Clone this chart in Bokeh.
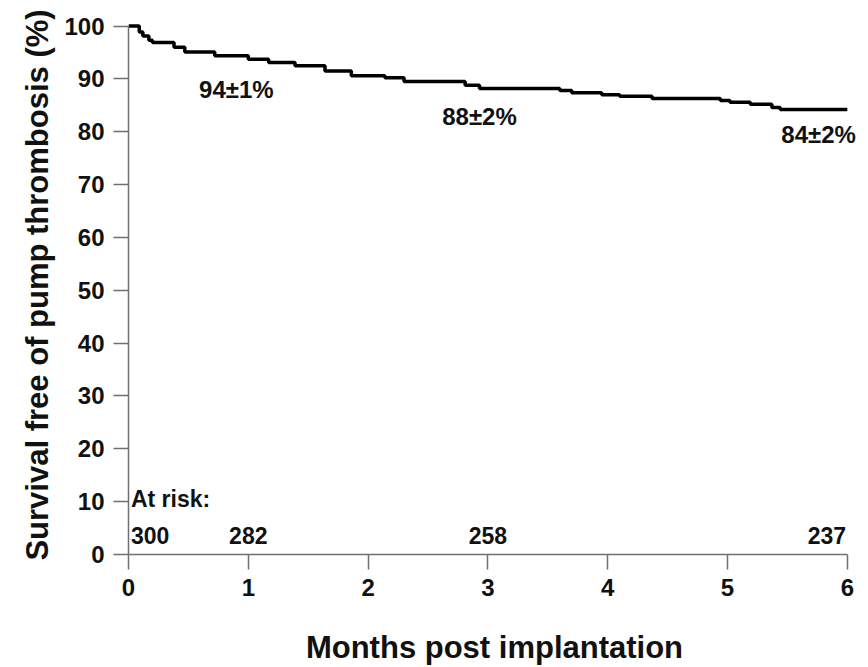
from bokeh.plotting import figure
from bokeh.models import ColumnDataSource, FixedTicker
from bokeh.core.properties import value
from bokeh.embed import file_html
from bokeh.resources import INLINE

# Kaplan-Meier curve (months, survival %)
km_months = [0.0, 0.09, 0.12, 0.17, 0.20, 0.38, 0.47, 0.72, 1.00, 1.17, 1.39,
             1.64, 1.86, 2.14, 2.30, 2.81, 2.93, 3.60, 3.70, 3.95, 4.10, 4.37,
             4.94, 5.02, 5.19, 5.37, 5.44, 6.00]
km_survival = [100.0, 98.9, 98.1, 97.3, 96.9, 96.0, 95.1, 94.4, 93.7, 93.1, 92.5,
               91.5, 90.6, 90.2, 89.5, 88.8, 88.2, 87.8, 87.4, 87.0, 86.7, 86.3,
               85.9, 85.6, 85.2, 84.6, 84.2, 84.2]

# Survival estimate annotations
annot_months = [0.90, 2.93, 5.76]
annot_values = [88.0, 82.8, 79.4]
annot_text = ["94±1%", "88±2%", "84±2%"]

# Numbers at risk
risk_months = [0.02, 1.0, 3.0, 5.99]
risk_counts = ["300", "282", "258", "237"]
risk_align = ["left", "center", "center", "right"]
risk_level = [3.6, 3.6, 3.6, 3.6]
risk_title = "At risk:"
risk_title_month = [0.02]
risk_title_level = [10.5]

x_ticks = [0, 1, 2, 3, 4, 5, 6]
y_ticks = [0, 10, 20, 30, 40, 50, 60, 70, 80, 90, 100]

FONT = "Liberation Sans"
AXIS_GREY = "#707070"

p = figure(width=860, height=667, x_range=(0, 6.11), y_range=(0, 102),
           output_backend="svg", toolbar_location=None,
           min_border_left=128, min_border_right=0,
           min_border_top=15, min_border_bottom=111)
p.outline_line_color = None
p.xgrid.visible = False
p.ygrid.visible = False
p.background_fill_color = "white"
p.border_fill_color = "white"

p.step(km_months, km_survival, mode="after", line_width=3.5, line_color="black")

src_a = ColumnDataSource(dict(x=annot_months, y=annot_values, t=annot_text))
p.text(x="x", y="y", text="t", source=src_a, text_align="center",
       text_baseline="middle", text_font=value(FONT), text_font_style="bold",
       text_font_size="24px", text_color="#111111")

src_r = ColumnDataSource(dict(x=risk_months, y=risk_level, t=risk_counts, a=risk_align))
p.text(x="x", y="y", text="t", source=src_r, text_align="a",
       text_baseline="middle", text_font=value(FONT), text_font_style="bold",
       text_font_size="23px", text_color="#111111")

p.text(x=risk_title_month, y=risk_title_level, text=[risk_title], text_align="left",
       text_baseline="middle", text_font=value(FONT), text_font_style="bold",
       text_font_size="23px", text_color="#111111")

for ax in (p.xaxis[0], p.yaxis[0]):
    ax.axis_line_color = AXIS_GREY
    ax.axis_line_width = 1.5
    ax.major_tick_line_color = AXIS_GREY
    ax.major_tick_line_width = 1.5
    ax.major_tick_in = 0
    ax.major_tick_out = 15
    ax.minor_tick_line_color = None
    ax.major_label_text_font = FONT
    ax.major_label_text_font_style = "bold"
    ax.major_label_text_font_size = "24px"
    ax.major_label_text_color = "#111111"
    ax.axis_label_text_font = FONT
    ax.axis_label_text_font_style = "bold"
    ax.axis_label_text_font_size = "31px"
    ax.axis_label_text_color = "#111111"
    ax.major_label_standoff = 9

p.xaxis[0].ticker = FixedTicker(ticks=x_ticks)
p.yaxis[0].ticker = FixedTicker(ticks=y_ticks)
p.xaxis[0].bounds = (0, 6)
p.yaxis[0].bounds = (0, 100)
p.xaxis[0].axis_label = "Months post implantation"
p.yaxis[0].axis_label = "Survival free of pump thrombosis (%)"
p.xaxis[0].axis_label_standoff = 31
p.yaxis[0].axis_label_standoff = 6

open("out.html", "w").write(file_html(p, INLINE))
